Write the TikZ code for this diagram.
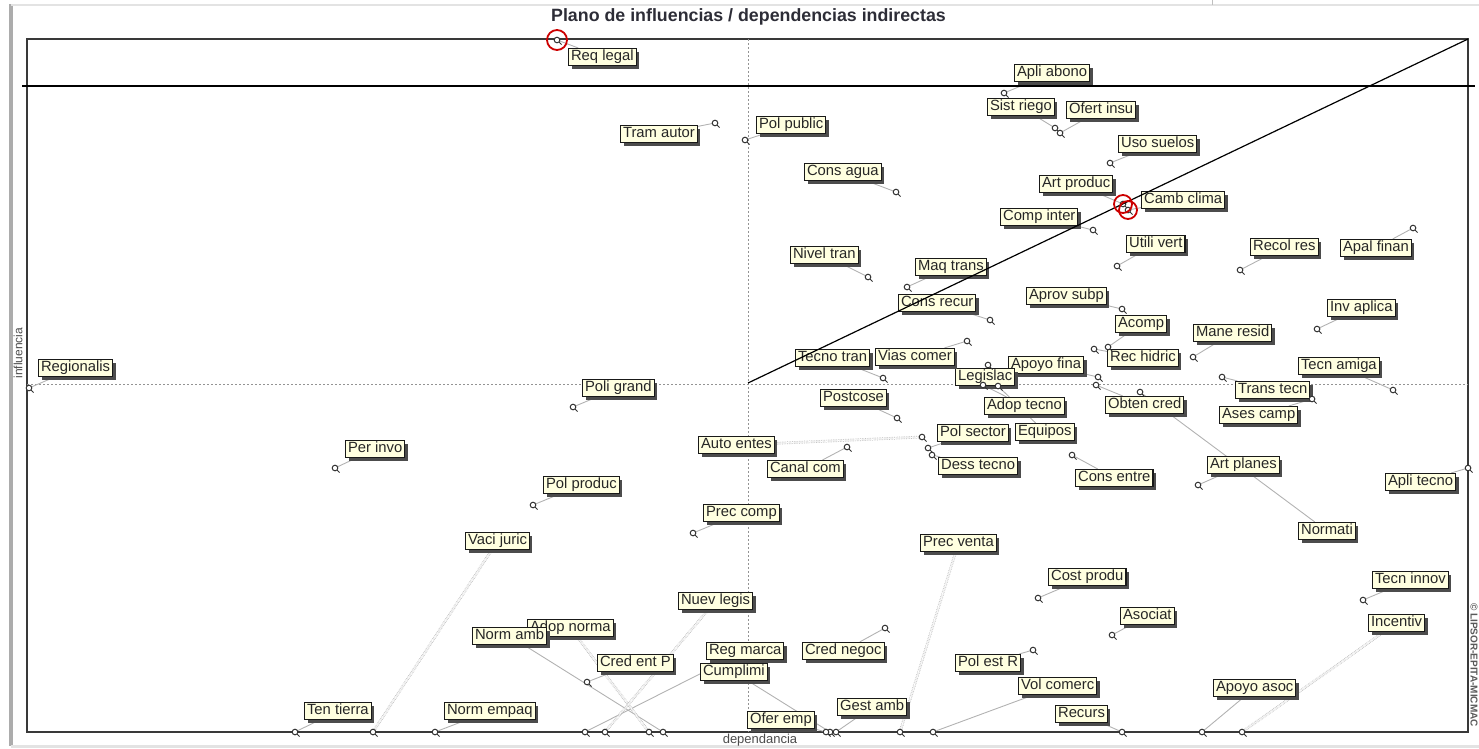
\documentclass[tikz,border=0pt]{standalone}
\usepackage{fontspec}
\setmainfont{Liberation Sans}
\usetikzlibrary{shadows}
\pgfdeclarelayer{bg}
\pgfsetlayers{bg,main}
\definecolor{cream}{RGB}{255,255,224}
\definecolor{titlecol}{RGB}{45,45,55}
\newcommand{\mklab}[6]{\node[lbl] (#1) at (#2,#3) {#4};\coordinate (#1-p) at (#5,#6);}
\begin{document}
\begin{tikzpicture}[x=1pt,y=-1pt,
 lbl/.style={draw=black!90, line width=1.1pt, fill=cream, anchor=west, inner xsep=2.5pt, inner ysep=1.6pt,
   text height=10.8pt, text depth=3pt, font=\fontsize{14.8}{16}\selectfont, text=black!85,
   drop shadow={shadow xshift=3pt, shadow yshift=-3pt, fill=black!70, opacity=1}},
 conn/.style={draw=gray!60, line width=0.9pt},
 dconn/.style={draw=gray!55, line width=0.7pt, densely dotted, double=white, double distance=1.3pt},
 mk/.style={draw=gray!40!black, line width=1pt},
 ring/.style={draw=red!80!black, line width=1.8pt}]
\useasboundingbox (0,0) rectangle (1479,748);

% labels and points
\mklab{reqlegal}{568}{57}{Req legal}{557}{40}
\mklab{tramautor}{620}{134}{Tram autor}{715}{123}
\mklab{polpublic}{756}{125}{Pol public}{745}{140}
\mklab{consagua}{804}{172}{Cons agua}{896}{192}
\mklab{apliabono}{1014}{73}{Apli abono}{1004}{93}
\mklab{sistriego}{987}{107}{Sist riego}{1055}{128}
\mklab{ofertinsu}{1066}{110}{Ofert insu}{1060}{133}
\mklab{usosuelos}{1118}{144}{Uso suelos}{1110}{163}
\mklab{artproduc}{1039}{184}{Art produc}{1123}{204}
\mklab{cambclima}{1141}{200}{Camb clima}{1128}{210}
\mklab{compinter}{1000}{217}{Comp inter}{1093}{230}
\mklab{utilivert}{1126}{244}{Utili vert}{1117}{266}
\mklab{recolres}{1250}{247}{Recol res}{1240}{270}
\mklab{apalfinan}{1340}{248}{Apal finan}{1413}{228}
\mklab{aprovsubp}{1026}{296}{Aprov subp}{1122}{309}
\mklab{acomp}{1115}{324}{Acomp}{1108}{347}
\mklab{rechidric}{1107}{358}{Rec hidric}{1094}{349}
\mklab{maneresid}{1193}{333}{Mane resid}{1193}{357}
\mklab{invaplica}{1327}{308}{Inv aplica}{1317}{329}
\mklab{apoyofina}{1008}{365}{Apoyo fina}{1098}{377}
\mklab{legislac}{955}{377}{Legislac}{988}{365}
\mklab{obtencred}{1105}{405}{Obten cred}{1096}{385}
\mklab{transtecn}{1235}{390}{Trans tecn}{1222}{377}
\mklab{asescamp}{1219}{415}{Ases camp}{1312}{399}
\mklab{tecnamiga}{1298}{366}{Tecn amiga}{1393}{390}
\mklab{adoptecno}{984}{406}{Adop tecno}{983}{385}
\mklab{equipos}{1015}{432}{Equipos}{998}{386}
\mklab{consentre}{1075}{478}{Cons entre}{1072}{455}
\mklab{polsector}{937}{433}{Pol sector}{928}{448}
\mklab{desstecno}{938}{466}{Dess tecno}{932}{455}
\mklab{autoentes}{698}{445}{Auto entes}{922}{437}
\mklab{viascomer}{875}{357}{Vias comer}{967}{341}
\mklab{tecnotran}{795}{358}{Tecno tran}{883}{378}
\mklab{postcose}{820}{398}{Postcose}{897}{418}
\mklab{canalcom}{767}{469}{Canal com}{847}{447}
\mklab{poligrand}{582}{388}{Poli grand}{573}{407}
\mklab{polproduc}{543}{485}{Pol produc}{533}{505}
\mklab{niveltran}{790}{255}{Nivel tran}{868}{277}
\mklab{maqtrans}{915}{267}{Maq trans}{907}{287}
\mklab{consrecur}{898}{303}{Cons recur}{990}{320}
\mklab{regionalis}{38}{368}{Regionalis}{29}{388}
\mklab{perinvo}{345}{449}{Per invo}{335}{468}
\mklab{vacijuric}{465}{541}{Vaci juric}{373}{732}
\mklab{tentierra}{304}{711}{Ten tierra}{295}{732}
\mklab{normempaq}{444}{711}{Norm empaq}{435}{732}
\mklab{adopnorma}{527}{628}{Adop norma}{649}{732}
\mklab{normamb}{472}{636}{Norm amb}{663}{732}
\mklab{credentp}{597}{663}{Cred ent P}{587}{682}
\mklab{nuevlegis}{678}{601}{Nuev legis}{605}{732}
\mklab{regmarca}{706}{651}{Reg marca}{585}{732}
\mklab{cumplimi}{700}{672}{Cumplimi}{830}{732}
\mklab{oferemp}{747}{720}{Ofer emp}{826}{732}
\mklab{gestamb}{837}{707}{Gest amb}{836}{732}
\mklab{precventa}{920}{543}{Prec venta}{900}{732}
\mklab{crednegoc}{802}{651}{Cred negoc}{885}{628}
\mklab{preccomp}{703}{513}{Prec comp}{693}{533}
\mklab{polestr}{955}{663}{Pol est R}{1033}{650}
\mklab{volcomerc}{1018}{686}{Vol comerc}{933}{732}
\mklab{recurs}{1055}{714}{Recurs}{1122}{732}
\mklab{costprodu}{1048}{577}{Cost produ}{1038}{598}
\mklab{asociat}{1120}{616}{Asociat}{1112}{635}
\mklab{normati}{1298}{531}{Normati}{1140}{392}
\mklab{tecninnov}{1372}{580}{Tecn innov}{1363}{600}
\mklab{incentiv}{1368}{623}{Incentiv}{1242}{732}
\mklab{apoyoasoc}{1213}{688}{Apoyo asoc}{1202}{732}
\mklab{artplanes}{1207}{465}{Art planes}{1198}{485}
\mklab{aplitecno}{1385}{482}{Apli tecno}{1468}{468}

% titles and axis names
\node[font=\fontsize{17.8}{20}\selectfont\bfseries, text=titlecol, anchor=base] (title) at (748.5,21) {Plano de influencias / dependencias indirectas};
\node[font=\fontsize{12}{13}\selectfont, text=black!70, rotate=90] (ylab) at (18,353) {influencia};
\node[font=\fontsize{13}{14}\selectfont, text=black!70, anchor=base] (xlab) at (760,743) {dependancia};
\node[font=\fontsize{10}{11}\selectfont\bfseries, text=black!65, rotate=-90] (copy) at (1474,665) {© LIPSOR-EPITA-MICMAC};

\begin{pgfonlayer}{bg}
 \draw[gray!65, line width=4pt] (11,4) -- (11,746);
 \draw[gray!22, line width=2pt] (11,5) -- (1479,5);
 \draw[gray!22, line width=3pt] (11,746.5) -- (1479,746.5);
 \draw[gray!50, line width=1pt] (1212,0) -- (1212,5);
 \draw[gray!45!black, line width=1.6pt] (27,39) rectangle (1468,732);
 \draw[gray!85, line width=0.8pt, dash pattern=on 2pt off 2pt] (748,39) -- (748,732);
 \draw[gray!85, line width=0.8pt, dash pattern=on 2pt off 2pt] (27,384) -- (1468,384);
 \foreach \n in {reqlegal,tramautor,polpublic,consagua,apliabono,sistriego,ofertinsu,usosuelos,artproduc,cambclima,compinter,utilivert,recolres,apalfinan,aprovsubp,acomp,rechidric,maneresid,invaplica,apoyofina,legislac,obtencred,transtecn,asescamp,tecnamiga,adoptecno,equipos,consentre,polsector,desstecno,viascomer,tecnotran,postcose,canalcom,poligrand,polproduc,niveltran,maqtrans,consrecur,regionalis,perinvo,tentierra,normempaq,normamb,credentp,regmarca,cumplimi,oferemp,gestamb,crednegoc,preccomp,polestr,volcomerc,recurs,costprodu,asociat,normati,tecninnov,apoyoasoc,artplanes,aplitecno}
   {\draw[conn] (\n-p) -- (\n);}
 \foreach \n in {autoentes,vacijuric,adopnorma,nuevlegis,precventa,incentiv}
   {\draw[dconn] (\n-p) -- (\n);}
\end{pgfonlayer}

% point markers
\foreach \n in {reqlegal,tramautor,polpublic,consagua,apliabono,sistriego,ofertinsu,usosuelos,artproduc,cambclima,compinter,utilivert,recolres,apalfinan,aprovsubp,acomp,rechidric,maneresid,invaplica,apoyofina,legislac,obtencred,transtecn,asescamp,tecnamiga,adoptecno,equipos,consentre,polsector,desstecno,autoentes,viascomer,tecnotran,postcose,canalcom,poligrand,polproduc,niveltran,maqtrans,consrecur,regionalis,perinvo,vacijuric,tentierra,normempaq,adopnorma,normamb,credentp,nuevlegis,regmarca,cumplimi,oferemp,gestamb,precventa,crednegoc,preccomp,polestr,volcomerc,recurs,costprodu,asociat,normati,tecninnov,incentiv,apoyoasoc,artplanes,aplitecno}
  {\draw[mk, fill=white] (\n-p) circle[radius=2.8pt];
   \draw[mk] ([shift={(2pt,-2pt)}]\n-p) -- ++(2.6pt,-2.6pt);}

% reference lines on top
\coordinate (d0) at (748,383);
\coordinate (d1) at (1468,39);
\draw[black, line width=1.2pt] (d0) -- (d1);
\coordinate (h0) at (22,86);
\coordinate (h1) at (1475,86);
\draw[black, line width=1.2pt] (h0) -- (h1);

% highlighted points
\draw[ring] (reqlegal-p) circle[radius=10pt];
\draw[ring] (artproduc-p) circle[radius=9pt];
\draw[ring] (cambclima-p) circle[radius=9pt];
\end{tikzpicture}
\end{document}
